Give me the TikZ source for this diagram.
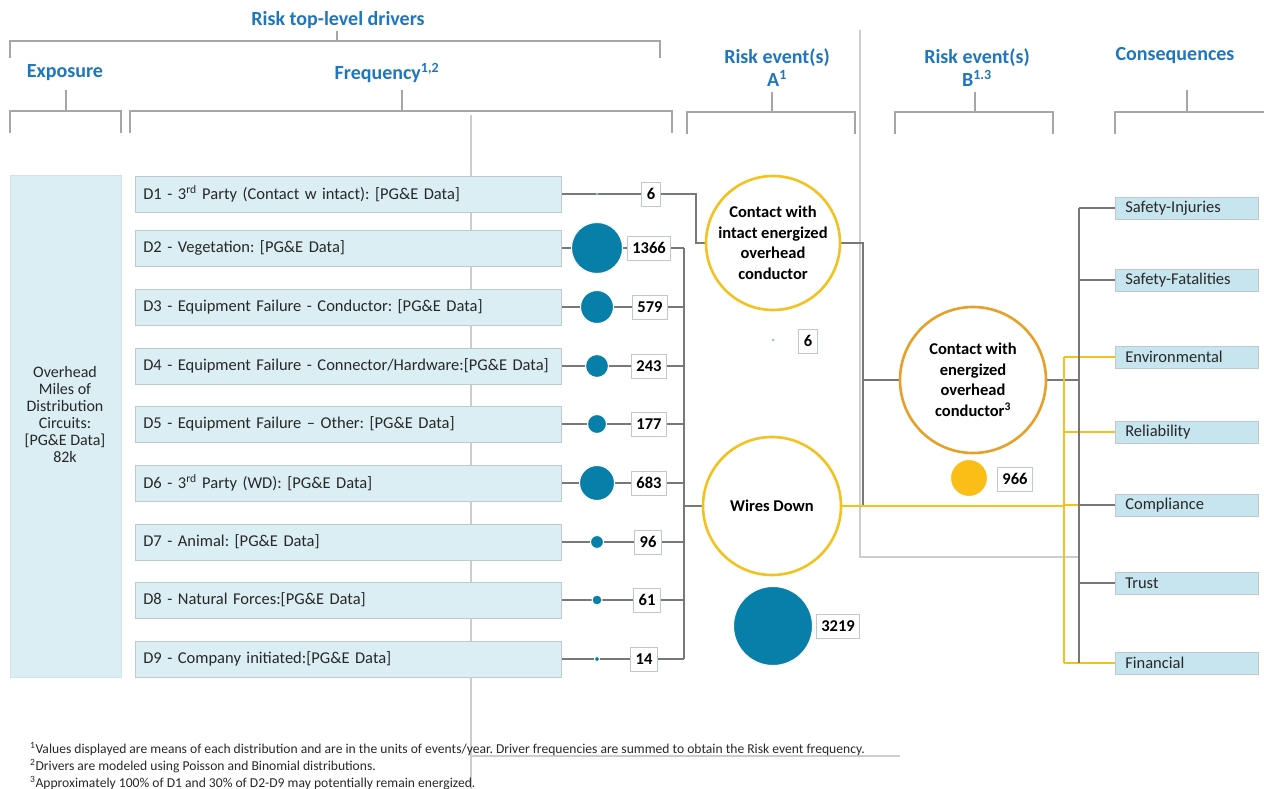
\documentclass[tikz,border=0pt]{standalone}
\usepackage{fontspec}
\setmainfont{Carlito}
\usetikzlibrary{backgrounds}
\frenchspacing
\definecolor{hdrblue}{RGB}{30,118,190}
\definecolor{brkgray}{RGB}{166,166,166}
\definecolor{guide}{RGB}{205,205,205}
\definecolor{drvfill}{RGB}{218,238,243}
\definecolor{csqfill}{RGB}{198,229,239}
\definecolor{boxline}{RGB}{190,200,205}
\definecolor{wire}{RGB}{120,120,120}
\definecolor{dotblue}{RGB}{8,127,168}
\definecolor{gold}{RGB}{242,194,30}
\definecolor{amber}{RGB}{230,160,40}
\definecolor{sun}{RGB}{250,190,22}
\definecolor{txt}{RGB}{40,40,40}
\begin{document}
\begin{tikzpicture}[x=1pt,y=-1pt,
  hdr/.style={font=\fontsize{20}{23}\selectfont\bfseries, text=hdrblue, align=center, inner sep=0pt},
  brk/.style={draw=brkgray, line width=2pt},
  guideline/.style={draw=guide, line width=1.6pt},
  drv/.style={draw=boxline, line width=0.7pt, fill=drvfill, minimum height=36pt, text width=410pt, inner xsep=8pt, align=left, anchor=west, font=\fontsize{16.5}{18}\selectfont, text=txt},
  dot/.style={circle, fill=dotblue, draw=white, line width=1pt, inner sep=0pt},
  val/.style={draw=boxline, line width=0.7pt, fill=white, font=\fontsize{16.5}{18}\selectfont\bfseries, inner xsep=5pt, minimum height=24pt, text=black},
  evt/.style={circle, draw=gold, line width=2.6pt, fill=white, align=center, font=\fontsize{16.5}{20.5}\selectfont\bfseries, inner sep=0pt, text=black},
  csq/.style={fill=csqfill, draw=boxline, line width=0.6pt, minimum height=22pt, text width=123pt, inner xsep=10pt, align=left, anchor=west, font=\fontsize{16.5}{18}\selectfont, text=txt},
  conn/.style={draw=wire, line width=1.8pt},
  yconn/.style={draw=gold, line width=1.8pt},
  note/.style={anchor=west, inner sep=0pt, font=\fontsize{13.6}{15}\selectfont, text=txt}
]
\useasboundingbox (0,0) rectangle (1264,789);

% ---------- column headers ----------
\node[hdr] (hRisk) at (338,20) {Risk top-level drivers};
\node[hdr] (hExp) at (65,73) {Exposure};
\node[hdr] (hFreq) at (387,73) {Frequency\textsuperscript{1,2}};
\node[hdr] (hA) at (777,68) {Risk event(s)\\A\textsuperscript{1}};
\node[hdr] (hB) at (977,68) {Risk event(s)\\B\textsuperscript{1.3}};
\node[hdr] (hCons) at (1175,56) {Consequences};

% ---------- brackets ----------
\draw[brk] (10,58) -- (10,41) -- (660,41) -- (660,58);
\draw[brk] (337,41) -- (337,31);
\draw[brk] (10,133) -- (10,111) -- (121,111) -- (121,133);
\draw[brk] (66,111) -- (66,90);
\draw[brk] (130,133) -- (130,111) -- (672,111) -- (672,133);
\draw[brk] (402,111) -- (402,90);
\draw[brk] (687,134) -- (687,112) -- (855,112) -- (855,134);
\draw[brk] (772,112) -- (772,92);
\draw[brk] (895,134) -- (895,112) -- (1053,112) -- (1053,134);
\draw[brk] (975,112) -- (975,92);
\draw[brk] (1115,134) -- (1115,112) -- (1264,112);
\draw[brk] (1187,112) -- (1187,90);

% ---------- exposure ----------
\node[fill=drvfill, draw=drvfill!90!gray, line width=0.5pt, minimum width=111pt, minimum height=502pt, anchor=north west, inner sep=0pt] (exp) at (10,175) {};
\node[align=center, font=\fontsize{16}{17}\selectfont, text=txt] (expTxt) at (65,415)
  {Overhead\\Miles of\\Distribution\\Circuits:\\{[PG\&E Data]}\\82k};

% ---------- drivers ----------
\node[drv] (d1) at (135,194) {D1 - 3\textsuperscript{rd} Party (Contact w intact): [PG\&E Data]};
\node[drv] (d2) at (135,248) {D2 - Vegetation: [PG\&E Data]};
\node[drv] (d3) at (135,307) {D3 - Equipment Failure - Conductor: [PG\&E Data]};
\node[drv] (d4) at (135,366) {D4 - Equipment Failure - Connector/Hardware:[PG\&E Data]};
\node[drv] (d5) at (135,424) {D5 - Equipment Failure – Other: [PG\&E Data]};
\node[drv] (d6) at (135,483) {D6 - 3\textsuperscript{rd} Party (WD): [PG\&E Data]};
\node[drv] (d7) at (135,542) {D7 - Animal: [PG\&E Data]};
\node[drv] (d8) at (135,600) {D8 - Natural Forces:[PG\&E Data]};
\node[drv] (d9) at (135,659) {D9 - Company initiated:[PG\&E Data]};

% frequency markers (area scaled)
\node[dot, fill=dotblue!45, draw=none, minimum size=3pt] (c1) at (597,194) {};
\node[dot, minimum size=51pt] (c2) at (597,248) {};
\node[dot, minimum size=33pt] (c3) at (597,307) {};
\node[dot, minimum size=23pt] (c4) at (597,366) {};
\node[dot, minimum size=19pt] (c5) at (597,424) {};
\node[dot, minimum size=35pt] (c6) at (597,483) {};
\node[dot, minimum size=13pt] (c7) at (597,542) {};
\node[dot, minimum size=10pt] (c8) at (597,600) {};
\node[dot, minimum size=5pt] (c9) at (597,659) {};

\node[val] (v1) at (651,194) {6};
\node[val] (v2) at (649,248) {1366};
\node[val] (v3) at (650,307) {579};
\node[val] (v4) at (649,366) {243};
\node[val] (v5) at (649,424) {177};
\node[val] (v6) at (649,483) {683};
\node[val] (v7) at (648,542) {96};
\node[val] (v8) at (647,600) {61};
\node[val] (v9) at (644,659) {14};

% ---------- risk events ----------
\node[evt, minimum size=134pt] (ca) at (773,243) {Contact with\\intact energized\\overhead\\conductor};
\node[dot, fill=dotblue!45, draw=none, minimum size=3pt] (cas) at (773,340) {};
\node[val] (va) at (808,341) {6};

\node[evt, minimum size=138pt] (wd) at (772,506) {Wires Down};
\node[dot, minimum size=79pt] (wds) at (773,626) {};
\node[val] (vw) at (838,626) {3219};

\node[evt, draw=amber, minimum size=146pt] (cb) at (973,380) {Contact with\\energized\\overhead\\conductor\textsuperscript{3}};
\node[dot, fill=sun, minimum size=37pt] (cbs) at (969,478) {};
\node[val] (vb) at (1015,479) {966};

% ---------- consequences ----------
\node[csq] (q1) at (1115,208) {Safety-Injuries};
\node[csq] (q2) at (1115,280) {Safety-Fatalities};
\node[csq] (q3) at (1115,357) {Environmental};
\node[csq] (q4) at (1115,432) {Reliability};
\node[csq] (q5) at (1115,505) {Compliance};
\node[csq] (q6) at (1115,583) {Trust};
\node[csq] (q7) at (1115,663) {Financial};

% bus positions
\coordinate (busD) at (684,0);
\coordinate (jA) at (696,0);
\coordinate (jB) at (863,0);
\coordinate (busY) at (1064,0);
\coordinate (busG) at (1079,0);

% ---------- connectors ----------
\begin{scope}[on background layer]
  % light guide lines
  \draw[guideline] (471,115) -- (471,789);
  \draw[guideline] (471,756) -- (900,756);
  \draw[guideline] (860,30) -- (860,557) -- (1079,557);

  % drivers to their values
  \foreach \i in {1,...,9} {\draw[conn] (d\i.east) -- (v\i.west);}
  % D1 feeds contact with intact conductor
  \draw[conn] (v1.east) -| (ca.west -| jA) -- (ca.west);
  % D2-D9 feed wires down
  \foreach \i in {2,...,9} {\draw[conn] (v\i.east) -- (v\i.east -| busD);}
  \draw[conn] (v2.east -| busD) -- (v9.east -| busD);
  \draw[conn] (wd.west -| busD) -- (wd.west);

  % risk event A to risk event B
  \draw[conn] (ca.east) -| (wd.east -| jB);
  \draw[conn] (cb.west -| jB) -- (cb.west);
  \draw[conn] (cb.east) -- (cb.east -| busG);

  % consequence buses
  \draw[yconn] (q3.west -| busY) -- (q7.west -| busY);
  \draw[yconn] (wd.east) -- (wd.east -| busY);
  \foreach \q in {3,4,5,7} {\draw[yconn] (q\q.west -| busY) -- (q\q.west);}
  \draw[conn] (q1.west -| busG) -- (q7.west -| busG);
  \foreach \q in {1,2,5,6} {\draw[conn] (q\q.west -| busG) -- (q\q.west);}
\end{scope}

% ---------- footnotes ----------
\node[note] (n1) at (30,749) {\textsuperscript{1}Values displayed are means of each distribution and are in the units of events/year. Driver frequencies are summed to obtain the Risk event frequency.};
\node[note] (n2) at (30,766) {\textsuperscript{2}Drivers are modeled using Poisson and Binomial distributions.};
\node[note] (n3) at (30,783) {\textsuperscript{3}Approximately 100\% of D1 and 30\% of D2-D9 may potentially remain energized.};
\end{tikzpicture}
\end{document}
